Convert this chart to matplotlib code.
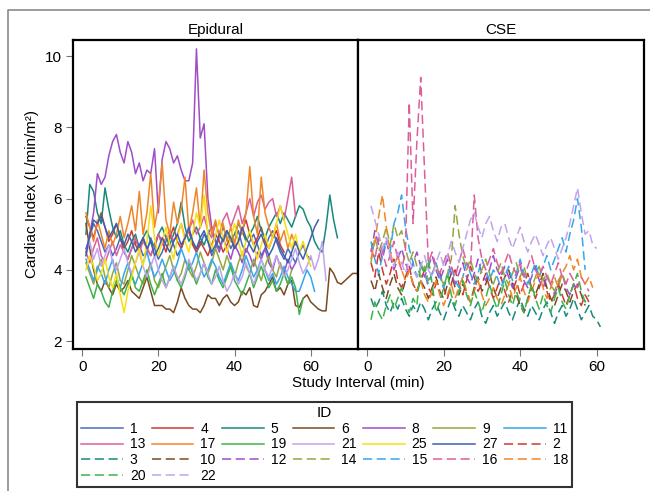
import numpy as np
import matplotlib
matplotlib.use("Agg")
import matplotlib.pyplot as plt
from matplotlib.lines import Line2D

plt.rcParams["font.family"] = ["Liberation Sans", "DejaVu Sans"]

# cardiac index readings, one per minute, starting at minute 1
# --- Epidural group (solid lines)
ci_1 = [4.6, 4.9, 5.3, 5.1, 4.8, 4.5, 4.7, 4.4, 4.6, 4.9, 4.5, 4.3, 4.6, 4.8, 4.7, 4.4, 4.5, 4.9, 4.6, 4.3,
        4.5, 4.8, 5.0, 4.7, 4.4, 4.6, 4.9, 5.1, 4.8, 4.5, 4.7, 5.0, 4.8, 4.4, 4.6, 4.9, 5.2, 4.9, 4.6, 4.8,
        5.1, 4.7, 4.5, 4.8, 5.0, 4.7, 4.4, 4.6, 4.9, 5.1, 4.8, 4.5, 4.3, 4.6, 4.4, 4.2, 4.5, 4.7, 4.4, 4.3]
ci_4 = [5.5, 5.2, 4.9, 5.3, 5.6, 5.2, 4.8, 5.0, 5.3, 4.9, 4.6, 4.8, 5.1, 4.7, 4.5, 4.9, 4.6, 4.4, 4.7, 5.0,
        4.8, 4.5, 4.9, 5.2, 4.8, 4.6, 4.9, 5.1, 4.7, 4.5, 4.8, 4.6, 4.4, 4.7, 5.0, 4.8, 4.5, 4.7, 4.9, 4.6,
        4.8, 5.1, 5.4, 5.0, 4.7, 4.9, 5.2, 4.8, 4.6, 4.9, 5.1, 4.7, 4.5]
ci_5 = [5.0, 6.4, 6.2, 5.6, 5.3, 6.3, 5.7, 5.2, 4.9, 5.1, 4.7, 4.5, 4.8, 5.0, 4.6, 4.9, 5.1, 4.8, 4.6, 5.0,
        5.2, 4.9, 4.7, 5.0, 5.3, 5.9, 5.2, 4.8, 5.0, 5.2, 4.9, 4.7, 5.0, 5.2, 4.8, 4.6, 4.9, 5.1, 4.8, 5.0,
        5.3, 5.1, 4.8, 5.0, 5.2, 5.5, 5.1, 4.9, 5.2, 5.4, 5.6, 5.3, 5.6, 5.4, 5.2, 5.5, 5.8, 5.7, 5.4, 5.2,
        4.8, 4.6, 4.5, 5.2, 6.1, 5.4, 4.9]
ci_6 = [5.3, 4.6, 4.0, 3.6, 3.4, 3.7, 3.5, 3.3, 3.6, 3.4, 3.5, 3.7, 3.4, 3.3, 3.2, 3.5, 3.8, 3.4, 3.0, 3.0,
        3.0, 2.9, 2.9, 2.8, 3.1, 3.5, 3.2, 3.0, 2.9, 2.9, 2.8, 3.0, 3.3, 3.2, 3.2, 3.0, 3.2, 3.3, 3.1, 3.0,
        3.1, 3.4, 3.3, 3.5, 3.0, 2.95, 3.3, 3.4, 3.6, 3.8, 3.4, 3.5, 3.3, 3.6, 3.7, 3.0, 2.95, 3.2, 3.3, 3.1,
        3.0, 2.9, 2.85, 2.85, 4.05, 3.9, 3.65, 3.6, 3.7, 3.8, 3.9, 3.9]
ci_8 = [4.5, 5.0, 5.6, 6.7, 6.4, 6.6, 7.2, 7.6, 7.8, 7.3, 7.0, 7.6, 7.3, 6.7, 7.0, 6.5, 6.8, 6.7, 7.4, 5.6,
        7.1, 7.6, 7.4, 7.0, 7.2, 6.8, 6.5, 6.5, 7.0, 10.2, 7.7, 8.1, 6.0, 5.2, 4.8, 4.5, 4.9, 4.6, 4.3, 4.7,
        4.5, 4.2, 4.6, 4.4, 4.1, 4.5, 4.3, 4.6, 4.2, 4.0, 4.4, 4.1, 3.9, 4.3, 4.0, 4.2]
ci_9 = [4.2, 3.9, 3.6, 4.0, 4.3, 3.8, 3.5, 3.9, 4.2, 3.7, 3.6, 4.0, 4.4, 4.1, 3.8, 3.6, 3.9, 4.2, 3.7, 3.5,
        3.8, 4.1, 4.4, 4.0, 3.7, 3.9, 4.3, 4.0, 3.8, 4.1, 4.5, 4.2, 3.9, 4.2, 4.6, 4.3, 4.0, 4.4, 4.1, 3.8,
        4.2, 4.5, 4.1, 3.9, 4.3, 4.0, 3.7, 4.1, 4.4, 4.0, 3.8, 4.2, 3.9, 3.6, 4.0]
ci_11 = [4.3, 4.0, 3.7, 4.1, 3.9, 3.6, 4.0, 4.3, 3.8, 3.5, 3.9, 4.2, 3.8, 3.6, 3.9, 4.2, 4.5, 4.1, 3.8, 4.0,
         4.3, 4.0, 3.7, 3.9, 4.2, 4.6, 4.3, 4.0, 4.2, 4.5, 4.1, 3.8, 4.0, 4.3, 4.1, 3.8, 3.6, 3.9, 4.2, 3.9,
         3.7, 4.0, 4.4, 4.1, 3.8, 4.0, 4.3, 4.0, 3.7, 3.9, 3.6, 3.8, 4.1, 3.8, 3.6, 3.4, 3.4, 3.7, 4.0, 3.8, 3.4]
ci_13 = [4.5, 4.2, 4.6, 4.9, 4.4, 4.2, 4.5, 4.8, 4.4, 4.7, 4.5, 4.3, 4.6, 4.9, 4.5, 4.8, 4.6, 4.4, 4.7, 5.0,
         4.7, 4.9, 5.1, 4.8, 5.0, 5.3, 4.9, 5.1, 5.4, 5.0, 5.2, 5.5, 5.1, 4.9, 5.3, 5.0, 5.4, 5.6, 5.2, 5.5,
         5.8, 5.3, 5.6, 6.0, 5.5, 5.9, 6.1, 5.7, 5.9, 6.0, 5.5, 5.8, 5.4, 6.0, 6.6, 5.5]
ci_17 = [5.6, 5.2, 4.8, 5.4, 5.0, 4.6, 5.1, 4.7, 5.0, 5.5, 4.9, 5.3, 5.8, 5.1, 6.2, 5.0, 5.6, 6.7, 5.2, 5.8,
         7.0, 5.4, 5.0, 5.9, 5.3, 5.7, 6.6, 5.1, 5.6, 6.3, 5.2, 6.8, 5.6, 5.0, 5.4, 4.9, 5.3, 4.8, 5.2, 4.7,
         5.4, 5.0, 5.6, 6.9, 5.5, 5.0, 6.6, 5.6, 5.2, 4.9, 5.3, 4.8, 5.1, 4.6, 5.0, 4.7]
ci_19 = [3.8, 3.5, 3.2, 3.6, 3.4, 3.1, 2.95, 3.4, 3.7, 3.5, 3.3, 3.6, 3.9, 3.5, 3.4, 3.7, 4.0, 3.6, 3.3, 3.6,
         3.9, 3.5, 3.8, 4.1, 3.7, 3.5, 3.8, 4.2, 3.9, 3.6, 3.9, 4.2, 3.8, 3.6, 4.0, 3.7, 3.5, 3.8, 4.1, 3.7,
         3.5, 3.3, 3.6, 3.9, 3.5, 3.8, 4.1, 3.8, 3.5, 3.7, 3.4, 3.6, 3.9, 3.6, 3.8, 3.5, 2.75, 3.2]
ci_21 = [4.4, 4.8, 4.3, 4.6, 4.1, 4.4, 4.7, 4.2, 4.0, 4.3, 4.6, 4.2, 3.9, 4.2, 4.5, 4.1, 3.8, 4.1, 4.4, 4.0,
         3.7, 3.5, 3.8, 4.1, 3.8, 3.6, 3.9, 4.3, 4.0, 3.7, 3.9, 4.2, 3.9, 3.6, 3.8, 4.1, 3.7, 3.4, 3.6, 3.9,
         3.6, 3.8, 4.2, 3.9, 3.6, 3.9, 4.3, 4.0, 3.8, 4.1, 4.4, 4.1, 3.8, 4.0, 4.3, 4.6, 4.2, 3.9, 4.1, 4.4,
         4.0, 4.3, 4.8, 3.7]
ci_25 = [4.0, 4.4, 4.1, 3.7, 3.9, 4.3, 3.8, 3.5, 3.9, 3.3, 2.8, 3.4, 3.8, 4.2, 4.6, 4.1, 4.8, 5.8, 4.9, 4.4,
         4.8, 5.2, 4.7, 4.3, 4.9, 5.3, 4.8, 4.5, 5.0, 5.6, 5.2, 6.1, 5.0, 4.6, 5.0, 5.4, 4.9, 4.5, 4.9, 5.3,
         4.8, 4.4, 4.8, 5.1, 4.7, 4.3, 4.7, 5.0, 4.6, 4.9, 5.3, 5.8, 5.4, 5.0, 4.6, 5.0, 4.5, 4.8, 4.4, 4.1]
ci_27 = [4.4, 5.0, 5.4, 5.3, 5.5, 5.2, 4.9, 5.1, 5.3, 4.9, 4.7, 5.0, 4.8, 4.5, 4.7, 4.9, 4.6, 4.8, 4.4, 4.6,
         4.9, 4.7, 4.5, 4.8, 5.0, 4.7, 4.9, 5.2, 4.8, 4.6, 4.9, 5.1, 4.8, 4.5, 4.7, 5.0, 4.8, 5.1, 4.9, 4.6,
         4.8, 5.2, 4.9, 4.7, 4.5, 4.8, 5.0, 4.7, 4.4, 4.6, 4.9, 4.6, 4.4, 4.2, 4.5, 4.8, 4.5, 4.3, 4.6, 4.9,
         5.2, 5.4]

# --- CSE group (dashed lines)
ci_2 = [4.2, 3.8, 4.5, 4.0, 3.6, 3.9, 4.3, 3.7, 3.5, 3.8, 4.1, 3.6, 3.4, 3.7, 4.0, 3.5, 3.3, 3.6, 3.9, 3.5,
        3.2, 3.6, 4.0, 3.6, 3.3, 3.7, 4.1, 3.8, 3.4, 3.6, 3.9, 3.5, 3.2, 3.5, 3.8, 3.4, 3.1, 3.4, 3.7, 3.3,
        3.6, 3.9, 3.5, 3.2, 3.5, 3.8, 3.4, 3.1, 3.3, 3.6, 3.3, 3.0, 3.3, 3.6, 3.2, 3.0, 3.3, 3.1]
ci_3 = [3.2, 2.9, 3.1, 3.4, 3.0, 2.8, 3.1, 2.9, 3.2, 2.9, 2.7, 3.0, 2.8, 3.1, 2.9, 2.6, 2.9, 3.1, 2.8, 2.6,
        2.9, 3.2, 2.9, 2.7, 3.0, 2.8, 2.6, 2.9, 3.1, 2.7, 2.5, 2.8, 3.0, 2.7, 2.9, 3.1, 2.8, 2.6, 2.9, 3.2,
        2.9, 2.7, 3.0, 2.8, 2.6, 2.9, 3.1, 2.8, 2.5, 2.8, 3.0, 2.7, 2.9, 3.2, 2.9, 2.6, 2.8, 3.0, 2.7, 2.6, 2.4]
ci_10 = [3.7, 3.4, 3.9, 3.5, 3.2, 3.6, 3.9, 3.5, 3.3, 3.7, 4.0, 3.6, 3.4, 3.7, 3.5, 3.2, 3.5, 3.8, 3.4, 3.2,
         3.6, 3.9, 3.5, 3.3, 3.6, 3.4, 3.1, 3.5, 3.8, 3.4, 3.6, 3.9, 3.5, 3.2, 3.5, 3.8, 4.0, 3.6, 3.3, 3.0,
         2.8, 3.2, 3.5, 3.3, 3.6, 3.9, 3.5, 3.2, 3.0, 3.3, 3.6, 3.4, 3.1, 3.4, 3.6, 3.3, 3.0]
ci_12 = [4.5, 5.1, 4.7, 4.3, 4.8, 4.4, 4.0, 4.3, 4.6, 4.2, 3.9, 4.2, 4.5, 4.1, 3.8, 4.1, 4.4, 4.0, 3.7, 4.0,
         4.3, 3.9, 3.6, 3.9, 4.2, 3.8, 3.6, 3.9, 4.3, 3.9, 3.7, 4.0, 4.4, 4.0, 3.8, 4.1, 3.8, 3.5, 3.8, 4.1,
         3.7, 3.5, 3.8, 4.1, 3.7, 3.5, 3.8, 3.6, 3.3, 3.6, 3.9, 3.5, 3.3, 3.6, 3.4]
ci_14 = [4.2, 4.9, 4.5, 4.8, 5.2, 4.7, 5.3, 4.9, 5.1, 4.6, 4.2, 4.5, 4.1, 3.8, 4.1, 3.7, 3.9, 4.2, 3.8, 3.6,
         3.9, 4.3, 5.8, 5.0, 4.4, 4.0, 4.3, 3.9, 3.7, 4.0, 4.3, 3.9, 3.6, 3.9, 4.2, 3.8, 3.6, 3.9, 4.2, 3.8,
         4.1, 3.7, 3.5, 3.8, 4.1, 3.7, 3.9, 3.6, 3.4, 3.7, 3.9, 3.6]
ci_15 = [4.8, 4.3, 3.9, 4.4, 4.9, 4.5, 5.3, 5.6, 6.1, 5.2, 4.6, 4.2, 3.8, 4.1, 3.9, 3.6, 3.9, 4.2, 3.8, 3.5,
         3.8, 4.1, 3.7, 3.5, 3.8, 4.2, 3.9, 3.6, 3.9, 4.3, 4.0, 3.7, 4.0, 3.8, 3.5, 3.8, 4.1, 3.7, 3.9, 4.3,
         3.9, 3.6, 3.9, 4.2, 3.8, 4.1, 4.4, 4.0, 4.3, 4.6, 4.9, 4.5, 5.0, 5.4, 6.0, 5.2, 4.0]
ci_16 = [4.6, 4.3, 4.9, 4.5, 4.1, 4.4, 4.8, 4.3, 4.0, 4.5, 8.7, 5.3, 7.6, 9.4, 6.8, 4.2, 4.5, 4.1, 3.9, 4.2,
         4.5, 4.1, 3.8, 4.2, 4.6, 4.2, 4.0, 6.1, 4.9, 4.3, 4.0, 4.3, 4.6, 4.2, 3.9, 4.2, 4.5, 4.1, 3.9, 4.2,
         3.8, 4.1, 4.4, 4.0, 3.8, 4.1, 3.8, 3.6, 3.9, 4.2, 3.8, 3.6, 3.9, 3.7, 3.5, 3.8, 3.6, 3.4]
ci_18 = [4.3, 4.8, 5.5, 6.1, 5.2, 4.5, 4.1, 4.4, 4.0, 3.7, 4.0, 3.6, 3.4, 3.7, 3.3, 3.1, 3.4, 3.7, 3.3, 3.0,
         3.3, 3.6, 3.2, 3.5, 3.8, 3.4, 3.1, 3.4, 3.7, 3.3, 3.0, 3.2, 3.5, 3.2, 3.0, 3.3, 3.6, 3.2, 3.5, 3.8,
         3.4, 3.1, 3.4, 3.7, 3.9, 3.5, 3.2, 3.5, 3.8, 3.5, 3.9, 4.1, 4.4, 4.0, 4.3, 3.8, 3.6, 3.8, 3.5]
ci_20 = [2.6, 3.1, 2.8, 2.6, 3.0, 3.3, 2.9, 3.2, 3.5, 3.1, 2.8, 3.2, 3.0, 4.2, 3.9, 4.3, 3.6, 2.8, 3.1, 3.5,
         3.9, 3.3, 3.0, 3.4, 3.7, 3.3, 3.0, 3.4, 3.1, 2.8, 3.2, 3.6, 3.2, 2.9, 3.3, 3.7, 3.3, 3.0, 3.4, 3.1,
         2.8, 3.2, 3.6, 3.2, 2.9, 3.3, 3.0, 2.8, 3.2, 3.5, 3.1, 2.9, 3.3, 3.6, 3.9, 3.4, 3.1, 3.3]
ci_22 = [5.8, 5.4, 5.0, 4.6, 4.9, 4.4, 4.1, 4.5, 4.2, 3.9, 4.3, 4.0, 3.8, 4.1, 4.4, 4.0, 3.8, 4.2, 4.5, 4.1,
         4.4, 4.8, 4.5, 4.2, 4.6, 5.0, 5.4, 5.6, 5.2, 4.9, 5.3, 5.5, 5.1, 4.8, 5.2, 5.3, 4.9, 4.6, 4.9, 5.2,
         4.8, 4.5, 4.8, 5.0, 4.7, 4.4, 4.7, 4.9, 4.6, 4.3, 4.6, 4.9, 5.3, 5.8, 6.3, 5.6, 5.0, 5.1, 4.7, 4.6]

epidural_ids = ["1", "4", "5", "6", "8", "9", "11", "13", "17", "19", "21", "25", "27"]
epidural_vals = [ci_1, ci_4, ci_5, ci_6, ci_8, ci_9, ci_11, ci_13, ci_17, ci_19, ci_21, ci_25, ci_27]
cse_ids = ["2", "3", "10", "12", "14", "15", "16", "18", "20", "22"]
cse_vals = [ci_2, ci_3, ci_10, ci_12, ci_14, ci_15, ci_16, ci_18, ci_20, ci_22]

# colour per ID (SAS-like cycle)
blue, red, teal, brown = "#4a6cb8", "#cc3b32", "#178a7a", "#7b4a22"
purple, olive, ltblue, pink = "#9f4dc9", "#92a83e", "#35a6ef", "#dc5f9a"
orange, green, lav, yellow = "#f0862a", "#3cb44a", "#c2a3ee", "#f7df10"
colors = {"1": blue, "4": red, "5": teal, "6": brown, "8": purple, "9": olive, "11": ltblue,
          "13": pink, "17": orange, "19": green, "21": lav, "25": yellow, "27": "#3d60ae",
          "2": red, "3": teal, "10": brown, "12": purple, "14": olive, "15": ltblue, "16": pink,
          "18": orange, "20": green, "22": lav}
legend_order = epidural_ids + cse_ids
dash = (6, 3)
lw = 1.1

fig = plt.figure(figsize=(6.5, 4.91), dpi=100)
W, H = 650, 491
# outer frame (left and top edges visible)
fig.add_artist(Line2D([8 / W, 8 / W, 1.0], [0.0, 1 - 10 / H, 1 - 10 / H], transform=fig.transFigure,
                      color="#8a8a8a", linewidth=1.2))

ax1 = fig.add_axes([73 / W, 1 - 349 / H, 285 / W, 309 / H])
ax2 = fig.add_axes([358 / W, 1 - 349 / H, 286 / W, 309 / H])

for pid, vals in zip(epidural_ids, epidural_vals):
    t = np.arange(1, len(vals) + 1)
    ax1.plot(t, vals, color=colors[pid], lw=lw)
for pid, vals in zip(cse_ids, cse_vals):
    t = np.arange(1, len(vals) + 1)
    ax2.plot(t, vals, color=colors[pid], lw=lw, dashes=dash)

for ax, title in [(ax1, "Epidural"), (ax2, "CSE")]:
    ax.set_xlim(-2.4, 72.4)
    ax.set_ylim(1.78, 10.45)
    ax.set_xticks([0, 20, 40, 60])
    ax.set_title(title, fontsize=11, pad=4)
    for s in ax.spines.values():
        s.set_linewidth(1.6)
    ax.tick_params(axis="both", direction="out", length=5, width=0.8, color="#777777",
                   labelsize=11, pad=3)

ax1.set_yticks([2, 4, 6, 8, 10])
ax2.set_yticks([])
ax1.set_ylabel("Cardiac Index (L/min/m²)", fontsize=11, labelpad=4)
fig.text(358 / W, 1 - 383 / H, "Study Interval (min)", ha="center", va="center", fontsize=11)

handles = {}
for pid in legend_order:
    if pid in cse_ids:
        handles[pid] = Line2D([], [], color=colors[pid], lw=lw, dashes=dash)
    else:
        handles[pid] = Line2D([], [], color=colors[pid], lw=lw)

# legend fills column by column, so reorder to read row by row
ncol = 7
col_order = [legend_order[i] for c in range(ncol) for i in range(c, len(legend_order), ncol)]

leg = fig.legend([handles[p] for p in col_order], col_order, title="ID", ncol=ncol, loc="upper left",
                 bbox_to_anchor=(77 / W, 1 - 402 / H), fontsize=10, title_fontsize=11,
                 handlelength=3.0, handletextpad=0.5, columnspacing=0.45, labelspacing=0.12,
                 borderpad=0.3, borderaxespad=0, frameon=True, fancybox=False)
leg.get_frame().set_edgecolor("black")
leg.get_frame().set_linewidth(1.5)

fig.savefig("out.png", dpi=100)
